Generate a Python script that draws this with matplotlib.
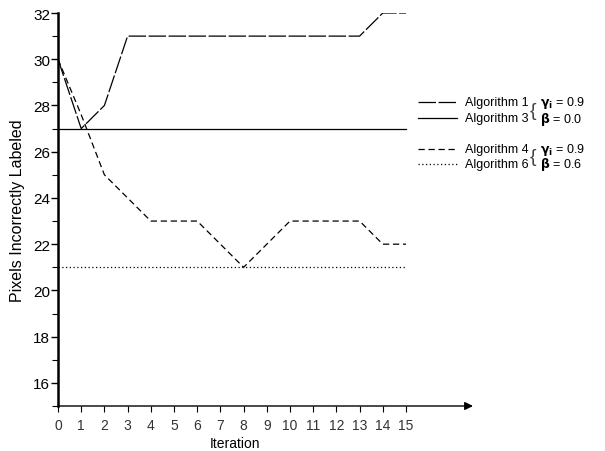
import matplotlib
matplotlib.use("Agg")
import matplotlib.pyplot as plt
from matplotlib.lines import Line2D
import numpy as np

plt.rcParams['font.family'] = ['Liberation Sans', 'DejaVu Sans']
plt.rcParams['mathtext.fontset'] = 'dejavusans'

iterations = list(range(16))
alg1 = [30, 27, 28, 31, 31, 31, 31, 31, 31, 31, 31, 31, 31, 31, 32, 32]
alg3 = [27] * 16
alg4 = [30, 27.6, 25, 24, 23, 23, 23, 22, 21, 22, 23, 23, 23, 23, 22, 22]
alg6 = [21] * 16

legend_left = ["Algorithm 1", "Algorithm 3", "Algorithm 4", "Algorithm 6"]
legend_right = [r"$\mathbf{\gamma_i}$ = 0.9", r"$\mathbf{\beta}$ = 0.0",
                r"$\mathbf{\gamma_i}$ = 0.9", r"$\mathbf{\beta}$ = 0.6"]

W, H = 605, 452
fig = plt.figure(figsize=(W / 100, H / 100), dpi=100)
left_px, right_px, top_px, bottom_px = 58, 473, 14, 407
ax_w = right_px - left_px
ax = fig.add_axes([left_px / W, 1 - bottom_px / H,
                   ax_w / W, (bottom_px - top_px) / H])
ax.set_xlim(0, ax_w / 23.2)
ax.set_ylim(15, 32)

lw = 0.9
styles = [
    dict(dashes=(14, 2)),
    dict(linestyle='-'),
    dict(dashes=(5, 3)),
    dict(dashes=(1, 2)),
]
series = [alg1, alg3, alg4, alg6]
for s, st in zip(series, styles):
    ax.plot(iterations, s, color='black', lw=lw, **st)

for sp in ['top', 'right', 'bottom']:
    ax.spines[sp].set_visible(False)
ax.spines['left'].set_linewidth(1.8)
ax.annotate('', xy=(1.0, 0), xycoords='axes fraction', xytext=(0, 0),
            textcoords='axes fraction',
            arrowprops=dict(arrowstyle='-|>', color='black', lw=1.0,
                            mutation_scale=12, shrinkA=0, shrinkB=0))

ax.set_xticks(iterations)
ax.set_xticklabels([str(i) for i in iterations], fontsize=10, color='#333333')
ax.set_yticks(range(16, 33, 2))
ax.set_yticks(range(15, 33), minor=True)
ax.tick_params(axis='y', which='major', length=5, width=1, labelsize=11, pad=0.5)
ax.tick_params(axis='y', which='minor', length=4, width=0.8)
ax.tick_params(axis='x', length=4, width=0.8, pad=5)

ax.set_ylabel("Pixels Incorrectly Labeled", fontsize=11.5)
ax.yaxis.set_label_coords((25 - left_px) / ax_w, 0.5)
ax.set_xlabel("Iteration", fontsize=10)
ax.xaxis.set_label_coords((235 - left_px) / ax_w, -0.077)

rows_px = [103, 119, 150, 165]
for (ypx, st, tl, tr) in zip(rows_px, styles, legend_left, legend_right):
    yf = 1 - ypx / H
    fig.add_artist(Line2D([418 / W, 457 / W], [yf, yf], color='black', lw=lw,
                          transform=fig.transFigure, **st))
    fig.text(465 / W, yf, tl, fontsize=9, va='center', ha='left')
    fig.text(540 / W, yf, tr, fontsize=9, va='center', ha='left')

for ya, yb in [(103, 119), (150, 165)]:
    yc = 1 - (ya + yb) / 2 / H
    fig.text(530 / W, yc, "{", fontsize=14, va='center', ha='left', color='#444444')

fig.savefig("out.png", dpi=100)
